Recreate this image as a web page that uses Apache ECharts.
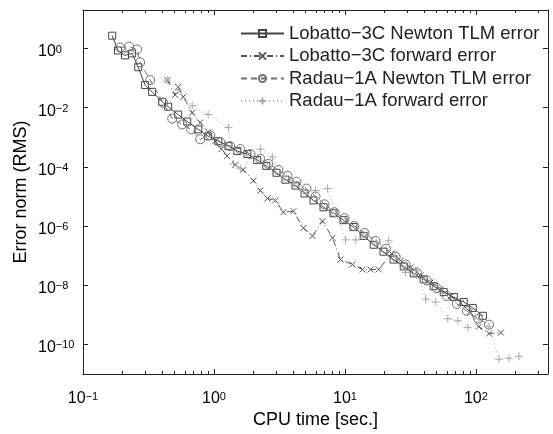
<!DOCTYPE html>
<html>
<head>
<meta charset="utf-8">
<script src="https://cdn.jsdelivr.net/npm/echarts@6/dist/echarts.min.js"></script>
<style>
  html, body { margin: 0; padding: 0; background: #fff; }
  #chart { width: 553px; height: 434px; }
</style>
</head>
<body>
<div id="chart"></div>
<script>
// ---- Data ----
const seriesNames = [
  'Lobatto\u22123C Newton TLM error',
  'Lobatto\u22123C forward error',
  'Radau\u22121A Newton TLM error',
  'Radau\u22121A forward error'
];

// Lobatto-3C Newton TLM error (squares)
const lobNewtonX = [0.167,0.185,0.209,0.237,0.264,0.298,0.337,0.402,0.447,0.533,0.625,0.759,0.903,1.08,1.29,1.51,1.80,2.14,2.51,3.00,3.51,4.19,4.91,5.75,6.86,8.18,9.75,11.6,13.9,16.6,19.7,23.5,28.1,33.5,39.9,47.6,56.8,67.8,80.7,94.6,113];
const lobNewtonY = [2.71,0.858,0.585,0.681,0.233,0.0585,0.0341,0.0158,0.0108,5.85e-3,3.41e-3,1.85e-3,1.08e-3,7.36e-4,5.01e-4,3.41e-4,2.71e-4,1.71e-4,1.08e-4,6.31e-5,3.69e-5,2.33e-5,1.26e-5,7.36e-6,4.30e-6,2.71e-6,1.58e-6,9.26e-7,4.64e-7,2.33e-7,1.36e-7,7.36e-8,4.30e-8,2.51e-8,1.58e-8,9.26e-9,5.85e-9,3.98e-9,2.71e-9,1.71e-9,9.26e-10];

// Lobatto-3C forward error (x marks)
const lobForwardX = [0.440,0.506,0.533,0.582,0.682,0.785,0.903,1.02,1.14,1.26,1.46,1.67,2.00,2.26,2.56,2.94,3.39,4.04,4.82,5.65,6.74,8.04,9.25,11.4,13.6,15.7,18.1,22.7,26.6,31.8,37.8,45.2,53.8,64.3,76.6,89.8,105,126,155];
const lobForwardY = [0.0858,0.0271,0.0501,0.0233,6.81e-3,3.16e-3,1.47e-3,7.36e-4,3.98e-4,2.33e-4,1.17e-4,7.94e-5,3.41e-5,1.58e-5,8.58e-6,7.36e-6,2.93e-6,3.16e-6,8.58e-7,4.64e-7,1.47e-6,3.98e-7,7.36e-8,5.01e-8,3.41e-8,3.41e-8,3.41e-8,1.17e-7,6.81e-8,3.98e-8,2.15e-8,1.26e-8,7.36e-9,4.30e-9,2.51e-9,1.26e-9,3.98e-10,2.33e-10,2.51e-10];

// Radau-1A Newton TLM error (circles)
const radNewtonX = [0.192,0.225,0.259,0.273,0.326,0.409,0.480,0.571,0.670,0.785,0.937,1.12,1.33,1.59,1.90,2.26,2.60,3.10,3.64,4.26,5.08,5.96,6.98,8.32,9.93,11.8,14.1,17.1,20.5,24.4,29.1,35.3,42.1,50.2,59.8,71.4,85.1,104,126];
const radNewtonY = [1.08,1.17,0.926,0.341,0.0858,0.0147,4.30e-3,2.71e-3,1.85e-3,8.58e-4,1.17e-3,6.81e-4,5.01e-4,3.98e-4,2.71e-4,1.85e-4,1.26e-4,7.94e-5,5.01e-5,3.16e-5,1.85e-5,1.0e-5,5.41e-6,2.93e-6,1.85e-6,1.0e-6,5.85e-7,3.16e-7,1.71e-7,9.26e-8,5.01e-8,2.71e-8,1.47e-8,7.94e-9,4.30e-9,2.33e-9,1.36e-9,7.36e-10,4.64e-10];

// Radau-1A forward error (plus marks)
const radForwardX = [0.440,0.533,0.682,0.903,1.29,1.41,1.59,2.26,2.79,3.39,4.04,4.82,5.96,7.36,8.47,10.1,12.1,14.4,17.5,21.6,24.4,29.1,34.7,41.4,49.3,61.0,72.8,86.7,105,126,150,179,213];
const radForwardY = [0.0858,0.0398,0.0117,5.85e-3,2.15e-3,1.26e-4,8.58e-5,3.98e-4,2.15e-4,4.64e-5,2.71e-5,1.58e-5,1.58e-5,1.85e-5,2.71e-6,3.41e-7,3.41e-7,4.64e-7,2.71e-7,3.16e-7,1.0e-7,2.71e-8,3.16e-8,3.41e-9,2.71e-9,7.36e-10,6.31e-10,3.69e-10,7.36e-10,3.98e-10,3.16e-11,3.41e-11,3.98e-11];

// Axis ticks
const xMajorTicks = [0.1, 1, 10, 100];
const xMinorTicks = [0.2,0.3,0.4,0.5,0.6,0.7,0.8,0.9,2,3,4,5,6,7,8,9,20,30,40,50,60,70,80,90,200,300];
const yMajorTicks = [1e-10, 1e-8, 1e-6, 1e-4, 1e-2, 1];
const xRange = [0.1, 355];
const yRange = [1e-11, 20];
const xTitle = 'CPU time [sec.]';
const yTitle = 'Error norm (RMS)';

// ---- Chart ----
const FONT = '"Liberation Sans", Arial, Helvetica, sans-serif';
const AX = '#222';

function zip(xs, ys) { return xs.map((x, i) => [x, ys[i]]); }
function powLabel(v) {
  const e = Math.round(Math.log10(v));
  return '{b|10}{s|' + (e < 0 ? '\u2212' + (-e) : String(e)) + '}';
}
const labelRich = {
  b: { fontSize: 16, lineHeight: 16, verticalAlign: 'bottom', fontFamily: FONT, color: '#000' },
  s: { fontSize: 11, lineHeight: 11, verticalAlign: 'top', padding: [0, 0, 9, 0], fontFamily: FONT, color: '#000' }
};

const crossPath = 'path://M0,0L10,10M10,0L0,10';
const plusPath = 'path://M5,0L5,10M0,5L10,5';

const styles = [
  { color: '#444', symbol: 'rect', size: 7, line: 'solid' },
  { color: '#555', symbol: crossPath, size: 6, line: [6, 3, 1, 3] },
  { color: '#707070', symbol: 'circle', size: 9, line: [6, 4] },
  { color: '#a8a8a8', symbol: plusPath, size: 8, line: [1, 3] }
];
const dataSets = [
  zip(lobNewtonX, lobNewtonY),
  zip(lobForwardX, lobForwardY),
  zip(radNewtonX, radNewtonY),
  zip(radForwardX, radForwardY)
];

const series = dataSets.map((d, i) => ({
  name: seriesNames[i],
  type: 'line',
  data: d,
  xAxisIndex: 0,
  yAxisIndex: 0,
  symbol: styles[i].symbol,
  symbolSize: styles[i].size,
  showAllSymbol: true,
  lineStyle: { color: styles[i].color, width: 1, type: styles[i].line },
  itemStyle: { color: 'rgba(0,0,0,0)', borderColor: styles[i].color, borderWidth: 1 },
  emphasis: { disabled: true },
  animation: false,
  z: 2 + i
}));

function logX(extra) {
  return Object.assign({
    type: 'log', logBase: 10, min: xRange[0], max: xRange[1],
    axisLine: { show: false }, splitLine: { show: false },
    axisLabel: { show: false }, axisTick: { show: false }
  }, extra);
}
function logY(extra) {
  return Object.assign({
    type: 'log', logBase: 10, min: yRange[0], max: yRange[1],
    axisLine: { show: false }, splitLine: { show: false },
    axisLabel: { show: false }, axisTick: { show: false }
  }, extra);
}

const option = {
  backgroundColor: '#fff',
  animation: false,
  grid: { left: 83, right: 5, top: 10, bottom: 57, containLabel: false },
  legend: {
    data: seriesNames,
    orient: 'vertical',
    left: 235,
    top: 19,
    itemWidth: 43,
    itemHeight: 9,
    itemGap: 3.5,
    textStyle: { fontFamily: FONT, fontSize: 18.5, color: '#222' },
    selectedMode: false
  },
  xAxis: [
    logX({
      position: 'bottom',
      axisLine: { show: true, onZero: false, lineStyle: { color: AX, width: 1 } },
      axisTick: { show: true, inside: true, length: 5, customValues: xMajorTicks, lineStyle: { color: AX } },
      axisLabel: { show: true, margin: 17, customValues: xMajorTicks, formatter: powLabel, rich: labelRich },
      name: xTitle, nameLocation: 'middle', nameGap: 37, nameMoveOverlap: false,
      nameTextStyle: { fontFamily: FONT, fontSize: 18, color: '#000' }
    }),
    logX({
      position: 'bottom',
      axisTick: { show: true, inside: true, length: 3, customValues: xMinorTicks, lineStyle: { color: AX } }
    }),
    logX({
      position: 'top',
      axisLine: { show: true, onZero: false, lineStyle: { color: AX, width: 1 } },
      axisTick: { show: true, inside: true, length: 5, customValues: xMajorTicks, lineStyle: { color: AX } }
    }),
    logX({
      position: 'top',
      axisTick: { show: true, inside: true, length: 3, customValues: xMinorTicks, lineStyle: { color: AX } }
    })
  ],
  yAxis: [
    logY({
      position: 'left',
      axisLine: { show: true, onZero: false, lineStyle: { color: AX, width: 1 } },
      axisTick: { show: true, inside: true, length: 5, customValues: yMajorTicks, lineStyle: { color: AX } },
      axisLabel: { show: true, margin: 45, align: 'left', customValues: yMajorTicks, formatter: powLabel, rich: labelRich, padding: [7, 0, 0, 0] },
      name: yTitle, nameLocation: 'middle', nameGap: 53, nameMoveOverlap: false,
      nameTextStyle: { fontFamily: FONT, fontSize: 18, color: '#000' }
    }),
    logY({
      position: 'right',
      axisLine: { show: true, onZero: false, lineStyle: { color: AX, width: 1 } },
      axisTick: { show: true, inside: true, length: 5, customValues: yMajorTicks, lineStyle: { color: AX } }
    })
  ],
  series: series
};

const chart = echarts.init(document.getElementById('chart'), null, { renderer: 'canvas' });
chart.setOption(option);
</script>
</body>
</html>
